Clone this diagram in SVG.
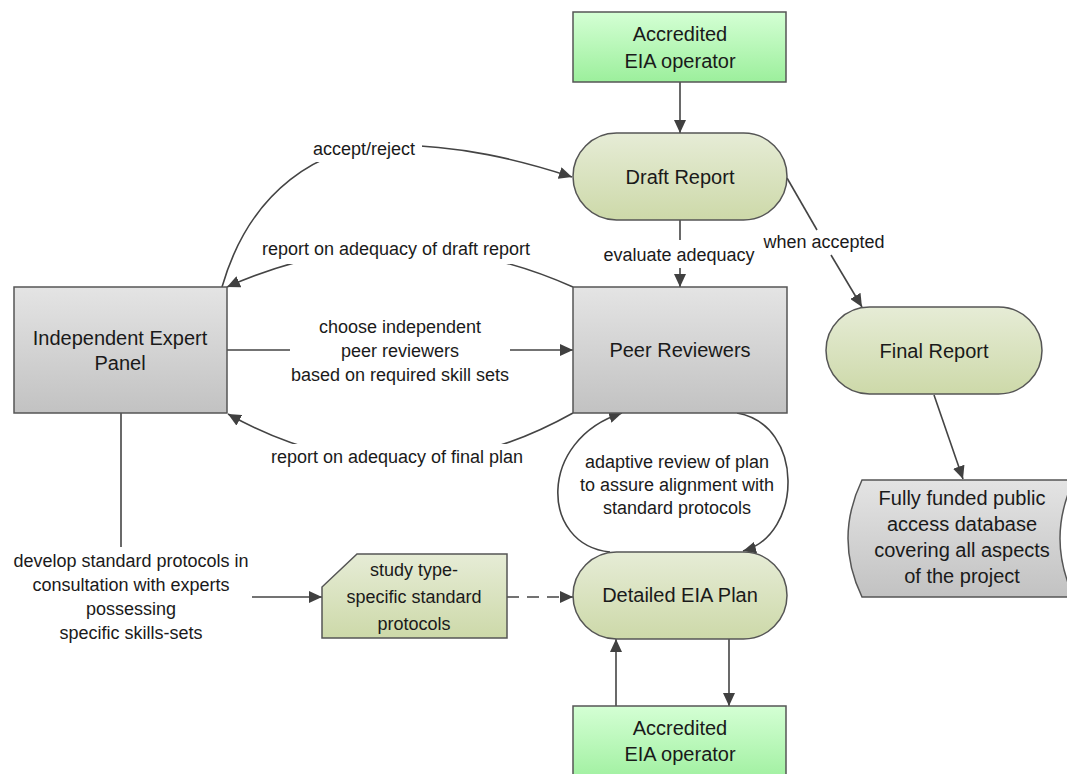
<svg xmlns="http://www.w3.org/2000/svg" width="1067" height="774" viewBox="0 0 1067 774">
<style>
.n{stroke:#555;stroke-width:1.5}
.g{fill:url(#gGray)}
.gr{fill:url(#gGreen)}
.ol{fill:url(#gOlive)}
.c{fill:none;stroke:#444;stroke-width:1.6}
.d{stroke-dasharray:12 8}
text{font-family:"Liberation Sans",Arial,sans-serif;fill:#1a1a1a;text-anchor:middle}
.t{font-size:20px}
.l{font-size:18px}
</style>
<defs>
<linearGradient id="gGray" x1="0" y1="0" x2="0" y2="1"><stop offset="0" stop-color="#e4e4e4"/><stop offset="1" stop-color="#c2c2c2"/></linearGradient>
<linearGradient id="gGreen" x1="0" y1="0" x2="0" y2="1"><stop offset="0" stop-color="#d4ffd4"/><stop offset="1" stop-color="#9cef9c"/></linearGradient>
<linearGradient id="gOlive" x1="0" y1="0" x2="0" y2="1"><stop offset="0" stop-color="#e6ecd6"/><stop offset="1" stop-color="#cdd9a9"/></linearGradient>
<marker id="ah" markerUnits="userSpaceOnUse" markerWidth="14" markerHeight="12" refX="13" refY="6" orient="auto"><path d="M0,0 L13,6 L0,12 z" fill="#404040"/></marker>
<mask id="m" maskUnits="userSpaceOnUse" x="0" y="0" width="1067" height="774">
<rect x="0" y="0" width="1067" height="774" fill="#fff"/>
<rect x="306" y="136" width="116" height="26" fill="#000"/>
<rect x="252" y="236" width="288" height="28" fill="#000"/>
<rect x="264" y="444" width="268" height="28" fill="#000"/>
</mask>
</defs>

<g id="connectors">
<g mask="url(#m)">
<path class="c" d="M222,287 C250,190 320,145 390,145 C460,145 520,160 572,177" marker-end="url(#ah)"/>
<path class="c" d="M573,287 Q400,210 227,287" marker-end="url(#ah)"/>
<path class="c" d="M573,413 Q400,510 228,414" marker-end="url(#ah)"/>
</g>
<path class="c" d="M680,82 L680,133" marker-end="url(#ah)"/>
<path class="c" d="M680,220 L680,240"/>
<path class="c" d="M680,268 L680,287" marker-end="url(#ah)"/>
<path class="c" d="M787,178 L817,230"/>
<path class="c" d="M831,255 L862,307" marker-end="url(#ah)"/>
<path class="c" d="M934,395 L963,479" marker-end="url(#ah)"/>
<path class="c" d="M227,350 L290,350"/>
<path class="c" d="M510,350 L573,350" marker-end="url(#ah)"/>
<path class="c" d="M610,552 C540,545 537,440 622,413" marker-end="url(#ah)"/>
<path class="c" d="M737,413 C805,425 803,535 743,551" marker-end="url(#ah)"/>
<path class="c" d="M121,413 L121,547"/>
<path class="c" d="M252,597 L322,597" marker-end="url(#ah)"/>
<path class="c d" d="M507,597 L573,597" marker-end="url(#ah)"/>
<path class="c" d="M616,706 L616,639" marker-end="url(#ah)"/>
<path class="c" d="M729,639 L729,706" marker-end="url(#ah)"/>
<text class="l" x="364" y="155">accept/reject</text>
<text class="l" x="396" y="255">report on adequacy of draft report</text>
<text class="l" x="679" y="261">evaluate adequacy</text>
<text class="l" x="824" y="248">when accepted</text>
<text class="l" x="400" y="333">choose independent</text>
<text class="l" x="400" y="357">peer reviewers</text>
<text class="l" x="400" y="381">based on required skill sets</text>
<text class="l" x="397" y="463">report on adequacy of final plan</text>
<text class="l" x="677" y="468">adaptive review of plan</text>
<text class="l" x="677" y="491">to assure alignment with</text>
<text class="l" x="677" y="514">standard protocols</text>
<text class="l" x="131" y="567">develop standard protocols in</text>
<text class="l" x="131" y="591">consultation with experts</text>
<text class="l" x="131" y="615">possessing</text>
<text class="l" x="131" y="639">specific skills-sets</text>
</g>

<g id="operator-top">
<rect class="n gr" x="573" y="12" width="213" height="70"/>
<text class="t" x="680" y="41">Accredited</text>
<text class="t" x="680" y="68">EIA operator</text>
</g>
<g id="draft-report">
<rect class="n ol" x="573" y="133" width="214" height="87" rx="43.5"/>
<text class="t" x="680" y="184">Draft Report</text>
</g>
<g id="expert-panel">
<rect class="n g" x="14" y="287" width="213" height="126"/>
<text class="t" x="120" y="345">Independent Expert</text>
<text class="t" x="120" y="370">Panel</text>
</g>
<g id="peer-reviewers">
<rect class="n g" x="573" y="287" width="214" height="126"/>
<text class="t" x="680" y="357">Peer Reviewers</text>
</g>
<g id="final-report">
<rect class="n ol" x="826" y="307" width="216" height="87" rx="43.5"/>
<text class="t" x="934" y="358">Final Report</text>
</g>
<g id="database">
<path class="n g" d="M862,480 L1074,480 Q1046,538.5 1074,597 L862,597 Q834,538.5 862,480 Z"/>
<text class="t" x="962" y="505">Fully funded public</text>
<text class="t" x="962" y="531">access database</text>
<text class="t" x="962" y="557">covering all aspects</text>
<text class="t" x="962" y="583">of the project</text>
</g>
<g id="protocols">
<path class="n ol" d="M357,554 L507,554 L507,638 L322,638 L322,587 Z"/>
<text class="l" x="414" y="576">study type-</text>
<text class="l" x="414" y="603">specific standard</text>
<text class="l" x="414" y="630">protocols</text>
</g>
<g id="detailed-plan">
<rect class="n ol" x="573" y="552" width="214" height="87" rx="43.5"/>
<text class="t" x="680" y="602">Detailed EIA Plan</text>
</g>
<g id="operator-bottom">
<rect class="n gr" x="573" y="706" width="213" height="80"/>
<text class="t" x="680" y="735">Accredited</text>
<text class="t" x="680" y="761">EIA operator</text>
</g>
</svg>
